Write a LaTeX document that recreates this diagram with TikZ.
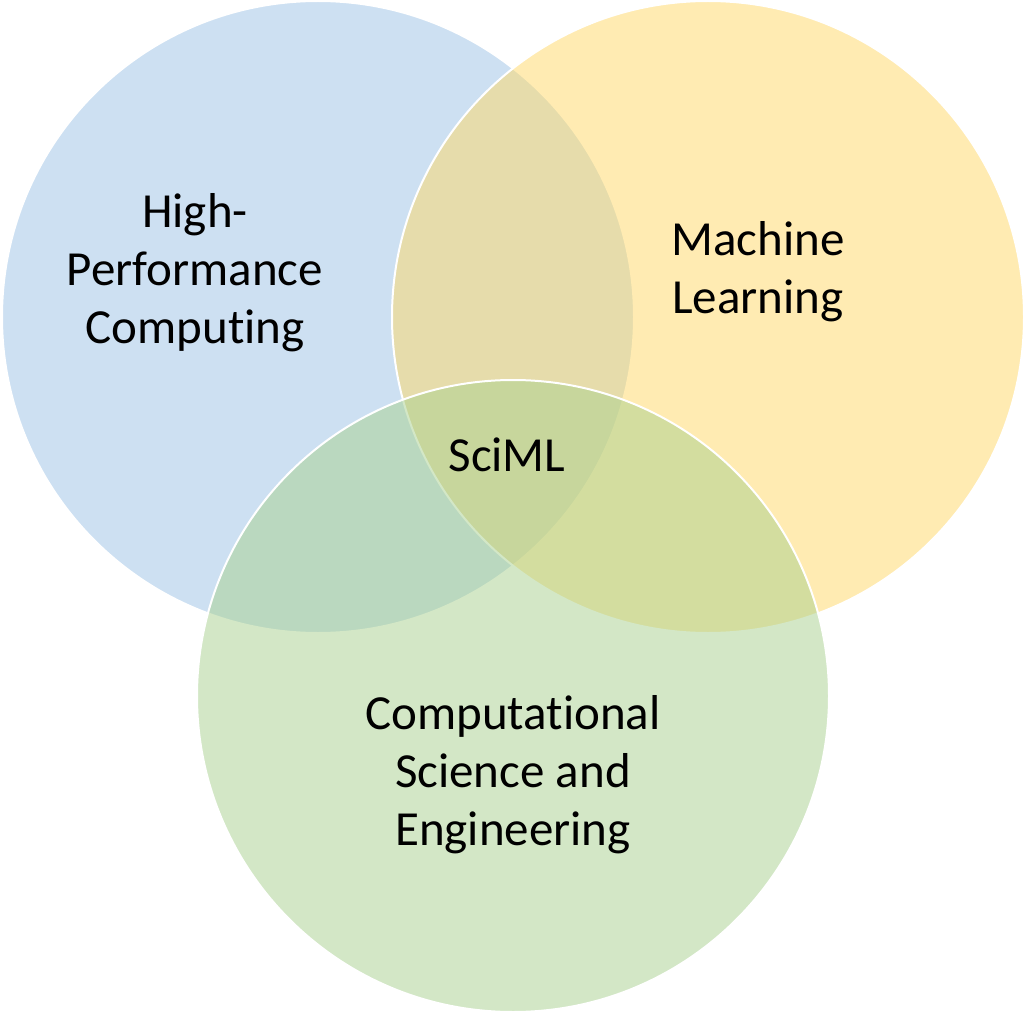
\documentclass[tikz,border=0pt]{standalone}
\usepackage{fontspec}
\setmainfont[Ligatures=NoCommon]{Carlito}
\definecolor{cblue}{HTML}{9DC3E6}
\definecolor{cyellow}{HTML}{FFD966}
\definecolor{cgreen}{HTML}{A9D18E}
\begin{document}
\begin{tikzpicture}[x=1pt,y=-1pt,
  venn/.style={draw=white,line width=2pt,fill opacity=0.5},
  lbl/.style={align=center,font=\fontsize{49}{58}\selectfont,text=black,inner sep=0pt}]
\useasboundingbox (0,0) rectangle (1026,1014);
\fill[white] (0,0) rectangle (1026,1014);
\path[venn,fill=cblue] (318,317) circle[radius=316];
\path[venn,fill=cyellow] (708,317) circle[radius=316];
\path[venn,fill=cgreen] (513,696) circle[radius=316];
\node[lbl] (hpc) at (195,273) {High-\\Performance\\Computing};
\node[lbl] (ml) at (758,272) {Machine\\Learning};
\node[lbl] (sciml) at (507,455) {SciML};
\node[lbl] (cse) at (513,775) {Computational\\Science and\\Engineering};
\end{tikzpicture}
\end{document}
